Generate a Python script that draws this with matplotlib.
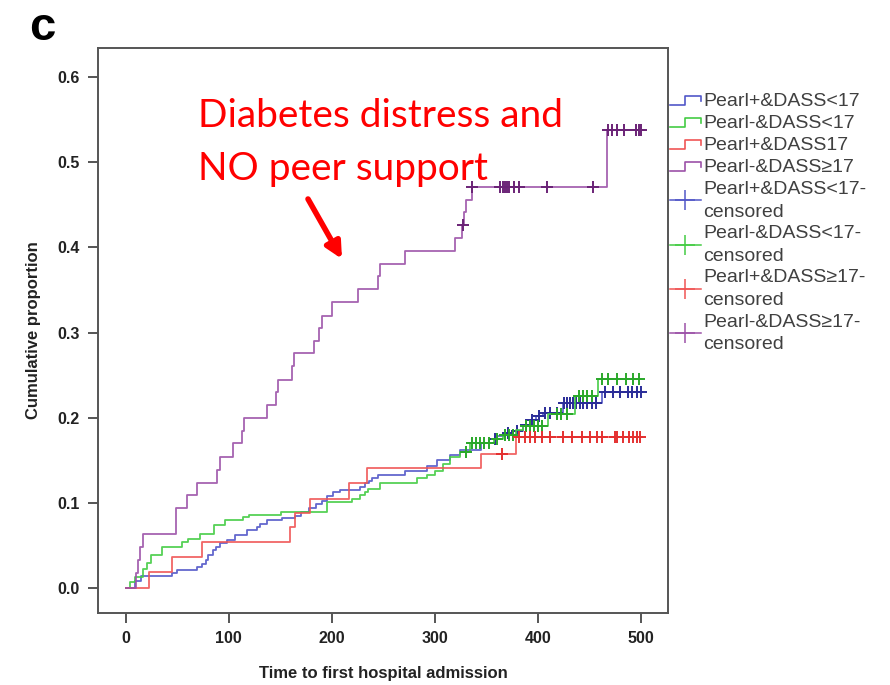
import numpy as np
import matplotlib
matplotlib.use("Agg")
import matplotlib.pyplot as plt
from matplotlib.lines import Line2D
from matplotlib.legend_handler import HandlerBase

plt.rcParams['font.family'] = ['Liberation Sans', 'DejaVu Sans']

# ---- data (event times, cumulative proportion after event) ----
blue_t = [0, 9, 15, 45, 50, 69, 74, 78, 80, 85, 88, 91, 98, 106, 118, 127, 130, 137, 152, 164,
          170, 178, 185, 190, 195, 201, 208, 227, 232, 236, 239, 245, 271, 292, 302, 315, 324,
          345, 352, 360, 368, 376, 385, 392, 398, 405, 424, 462]
blue_p = [0, 0.009, 0.015, 0.018, 0.021, 0.025, 0.029, 0.033, 0.039, 0.045, 0.048, 0.053, 0.057,
          0.062, 0.068, 0.072, 0.076, 0.080, 0.082, 0.085, 0.089, 0.094, 0.099, 0.103, 0.108,
          0.113, 0.115, 0.119, 0.123, 0.126, 0.129, 0.133, 0.138, 0.143, 0.150, 0.156, 0.162,
          0.171, 0.175, 0.179, 0.182, 0.185, 0.192, 0.198, 0.202, 0.206, 0.217, 0.230]
blue_cens = [358, 371, 380, 388, 394, 401, 407, 412, 418, 425, 428, 431, 434, 437, 441, 444,
             448, 452, 456, 465, 473, 480, 487, 491, 496, 500]

green_t = [0, 4, 9, 17, 21, 25, 35, 55, 60, 72, 86, 96, 114, 120, 151, 195, 220, 227, 232, 235,
           247, 283, 292, 300, 308, 315, 324, 334, 357, 366, 379, 385, 410, 436, 458]
green_p = [0, 0.007, 0.013, 0.023, 0.030, 0.039, 0.048, 0.054, 0.058, 0.064, 0.074, 0.080, 0.084,
           0.086, 0.089, 0.101, 0.105, 0.109, 0.113, 0.117, 0.123, 0.129, 0.133, 0.138, 0.146,
           0.154, 0.160, 0.171, 0.175, 0.180, 0.186, 0.190, 0.205, 0.226, 0.246]
green_cens = [330, 336, 340, 344, 348, 352, 360, 368, 372, 376, 388, 392, 396, 400, 404, 418,
              422, 428, 440, 444, 448, 452, 462, 468, 477, 485, 492, 498]

red_t = [0, 23, 45, 74, 159, 164, 179, 217, 234, 345, 379]
red_p = [0, 0.019, 0.037, 0.054, 0.072, 0.088, 0.105, 0.123, 0.141, 0.158, 0.177]
red_cens = [365, 382, 387, 392, 397, 404, 412, 424, 433, 443, 450, 457, 462, 475, 477, 482,
            488, 492, 496, 499]

purple_t = [0, 10, 12, 14, 17, 49, 59, 69, 89, 91, 104, 113, 115, 137, 146, 148, 161, 163, 183,
            188, 190, 200, 225, 245, 247, 271, 319, 326, 328, 330, 336, 467]
purple_p = [0, 0.018, 0.033, 0.048, 0.064, 0.094, 0.109, 0.124, 0.139, 0.154, 0.170, 0.185,
            0.200, 0.215, 0.230, 0.245, 0.261, 0.276, 0.290, 0.305, 0.320, 0.336, 0.351, 0.366,
            0.381, 0.396, 0.411, 0.426, 0.441, 0.456, 0.471, 0.538]
purple_cens = [327, 336, 363, 366, 368, 370, 372, 377, 382, 409, 453, 468, 472, 477, 483, 495,
               498, 500]

t_end = 500

groups = [
    ('Pearl+&DASS<17', 'Pearl+&DASS<17-\ncensored', blue_t, blue_p, blue_cens, '#5257c8', '#2a2c98'),
    ('Pearl-&DASS<17', 'Pearl-&DASS<17-\ncensored', green_t, green_p, green_cens, '#44cc44', '#2aa82a'),
    ('Pearl+&DASS17', 'Pearl+&DASS\u226517-\ncensored', red_t, red_p, red_cens, '#f05555', '#e43030'),
    ('Pearl-&DASS\u226517', 'Pearl-&DASS\u226517-\ncensored', purple_t, purple_p, purple_cens, '#9c52a8', '#6a2276'),
]


class StepHandler(HandlerBase):
    # legend key drawn as a small step, like the SPSS output
    def create_artists(self, legend, orig_handle, xdescent, ydescent, width, height, fontsize, trans):
        x = np.array([0, 0.5, 0.5, 1.0, 1.0]) * width - xdescent
        y = np.array([0.1, 0.1, 0.75, 0.75, 0.4]) * height - ydescent
        ln = Line2D(x, y, color=orig_handle.get_color(), lw=1.2, transform=trans)
        return [ln]


fig = plt.figure(figsize=(8.9, 6.85), dpi=100)
ax = fig.add_axes([0.110, 0.1051, 0.6404, 0.8248])

step_handles = []
cens_handles = []
for lab, clab, t, p, cens, col, ccol in groups:
    tt = list(t) + [t_end]
    pp = list(p) + [p[-1]]
    ax.step(tt, pp, where='post', color=col, lw=1.3, alpha=0.9)
    idx = np.searchsorted(t, cens, side='right') - 1
    cy = np.array(p)[idx]
    ax.plot(cens, cy, linestyle='none', marker='+', markersize=8, mew=1.4, color=ccol)
    step_handles.append(Line2D([], [], color=col, label=lab))
    cens_handles.append(Line2D([], [], color=col, marker='+', markersize=14, mew=1.1,
                               lw=1.1, label=clab))

ax.set_xlim(-27, 526)
ax.set_ylim(-0.029, 0.634)
ax.set_xticks([0, 100, 200, 300, 400, 500])
ax.set_yticks([0.0, 0.1, 0.2, 0.3, 0.4, 0.5, 0.6])
ax.set_yticklabels(['0.0', '0.1', '0.2', '0.3', '0.4', '0.5', '0.6'])
for s in ax.spines.values():
    s.set_color('#555555')
    s.set_linewidth(1.4)
ax.tick_params(direction='out', length=7, width=1.4, color='#555555', labelcolor='#222222',
               labelsize=11.5, pad=6)
for lbl in ax.get_xticklabels() + ax.get_yticklabels():
    lbl.set_fontweight('bold')

ax.set_xlabel('Time to first hospital admission', fontsize=12, fontweight='bold',
              color='#222222', labelpad=14)
ax.set_ylabel('Cumulative proportion', fontsize=12, fontweight='bold', color='#222222',
              labelpad=12)

handles = step_handles + cens_handles
hmap = {h: StepHandler() for h in step_handles}
leg = ax.legend(handles=handles, handler_map=hmap, loc='upper left',
                bbox_to_anchor=(1.0, 0.925), frameon=False, fontsize=14,
                handlelength=1.6, handletextpad=0.12, labelspacing=0.23,
                borderaxespad=0.1, borderpad=0.0, numpoints=1)
for txt in leg.get_texts():
    txt.set_color('#404040')
    txt.set_linespacing(1.45)

fig.text(0.033, 0.9416, 'c', fontsize=34, fontweight='bold', va='baseline', ha='left')

fig.text(0.2225, 0.8146, 'Diabetes distress and', fontsize=28, color='#ff0000',
         family=['Lato', 'DejaVu Sans'], va='baseline', ha='left')
fig.text(0.2225, 0.7372, 'NO peer support', fontsize=28, color='#ff0000',
         family=['Lato', 'DejaVu Sans'], va='baseline', ha='left')
ax.annotate('', xy=(342, 426), xytext=(308, 486), xycoords='figure pixels',
            textcoords='figure pixels',
            arrowprops=dict(arrowstyle='-|>', color='#ff0000', lw=4, mutation_scale=24,
                            shrinkA=0, shrinkB=0))

fig.savefig('out.png', dpi=100)
